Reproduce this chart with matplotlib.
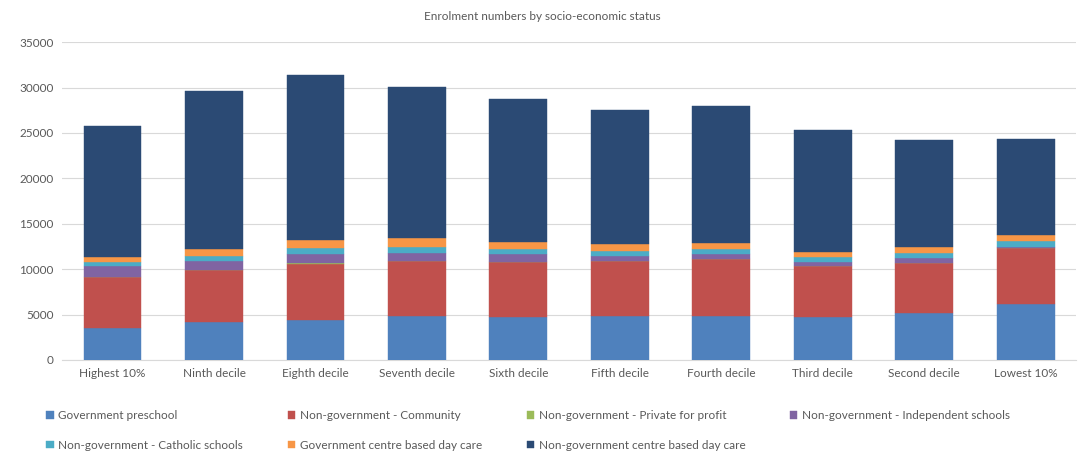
import numpy as np
import matplotlib.pyplot as plt

plt.rcParams['font.family'] = ['Lato', 'DejaVu Sans']

categories = ['Highest 10%', 'Ninth decile', 'Eighth decile', 'Seventh decile', 'Sixth decile',
              'Fifth decile', 'Fourth decile', 'Third decile', 'Second decile', 'Lowest 10%']

gov_preschool = [3500, 4200, 4400, 4850, 4750, 4850, 4850, 4750, 5150, 6150]
ng_community = [5600, 5700, 6200, 6050, 6050, 6050, 6250, 5600, 5500, 6150]
ng_private = [30, 30, 30, 30, 30, 30, 30, 30, 30, 30]
ng_independent = [1200, 1000, 1000, 900, 850, 550, 550, 450, 550, 100]
ng_catholic = [450, 550, 650, 650, 550, 550, 550, 550, 550, 700]
gov_daycare = [550, 750, 900, 900, 750, 750, 650, 550, 650, 650]
ng_daycare = [14400, 17400, 18250, 16650, 15750, 14750, 15050, 13400, 11800, 10550]

series = [
    ('Government preschool', gov_preschool, '#4f81bd'),
    ('Non-government - Community', ng_community, '#c0504d'),
    ('Non-government - Private for profit', ng_private, '#9bbb59'),
    ('Non-government - Independent schools', ng_independent, '#8064a2'),
    ('Non-government - Catholic schools', ng_catholic, '#4bacc6'),
    ('Government centre based day care', gov_daycare, '#f79646'),
    ('Non-government centre based day care', ng_daycare, '#2b4a74'),
]

fig = plt.figure(figsize=(10.85, 4.58), dpi=100)
ax = fig.add_axes([0.057, 0.214, 0.935, 0.694])

x = np.arange(len(categories))
bottom = np.zeros(len(categories))
handles = []
for label, vals, color in series:
    b = ax.bar(x, vals, 0.57, bottom=bottom, color=color, edgecolor=color,
               linewidth=0.3, label=label, zorder=3)
    handles.append(b)
    bottom += np.array(vals)

ax.set_xlim(-0.5, len(categories) - 0.5)
ax.set_ylim(0, 35000)
ax.set_yticks(np.arange(0, 35001, 5000))
ax.set_xticks(x)
ax.set_xticklabels(categories)
ax.tick_params(axis='both', length=0, labelsize=8.5, colors='#595959', pad=6)
ax.grid(axis='y', color='#d9d9d9', linewidth=0.8, zorder=0)
for s in ['top', 'right', 'left']:
    ax.spines[s].set_visible(False)
ax.spines['bottom'].set_color('#d9d9d9')

fig.text(0.5, 0.963, 'Enrolment numbers by socio-economic status', ha='center', va='center',
         fontsize=8.5, color='#595959')

order = [0, 4, 1, 5, 2, 6, 3]
fig.legend([handles[i] for i in order], [series[i][0] for i in order],
           loc='upper left', bbox_to_anchor=(0.033, 0.128), ncol=4, frameon=False,
           fontsize=8.5, labelcolor='#595959', handlelength=0.6, handleheight=0.6,
           handletextpad=0.4, columnspacing=3.8, labelspacing=1.6)

fig.savefig('out.png', dpi=100)
